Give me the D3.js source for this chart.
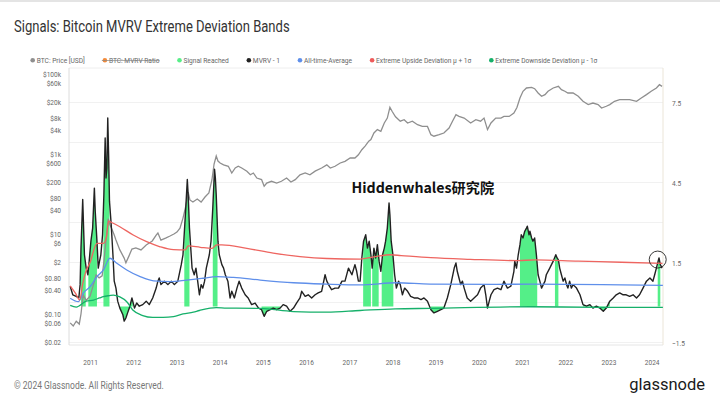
<!DOCTYPE html>
<html>
<head>
<meta charset="utf-8">
<script src="https://cdn.jsdelivr.net/npm/d3@7"></script>
<style>
  html, body { margin: 0; padding: 0; background: #fff; }
  svg { display: block; font-family: Roboto, "Noto Sans", sans-serif; }
</style>
</head>
<body>
<div id="chart"></div>
<script>
// <-- ************ FRAME ************ -->
const FRAME_WIDTH = 720;
const FRAME_HEIGHT = 395;
const PLOT = {left: 69, right: 663, top: 68, bottom: 345};
const SQUEEZE = 0.82; // glassnode text in the shot is a bit narrow

// <-- ************ DATA ************ -->
const YEAR_TICKS = [2011, 2012, 2013, 2014, 2015, 2016, 2017, 2018, 2019, 2020, 2021, 2022, 2023, 2024];
const PRICE_TICKS = [100000, 60000, 20000, 8000, 4000, 1000, 600, 200, 80, 40, 10, 6, 2, 0.8, 0.4, 0.1, 0.06, 0.02];
const PRICE_TICK_LABELS = ["$100k", "$60k", "$20k", "$8k", "$4k", "$1k", "$600", "$200", "$80", "$40",
                           "$10", "$6", "$2", "$0.80", "$0.40", "$0.10", "$0.06", "$0.02"];
const MVRV_TICKS = [7.5, 4.5, 1.5, -1.5];
const GRID_TICKS = [7.5, 6, 4.5, 3, 1.5, 0, -1.5];

// [decimal year, value]
const BTC_PRICE = [
  [2010.54, 0.060], [2010.61, 0.050], [2010.68, 0.066], [2010.75, 0.056], [2010.79, 0.10], [2010.84, 0.30],
  [2010.91, 0.22], [2011.00, 0.28], [2011.09, 0.60], [2011.14, 0.95], [2011.21, 0.80], [2011.28, 0.90],
  [2011.32, 2.0], [2011.37, 7.0], [2011.42, 24], [2011.46, 17], [2011.51, 13], [2011.56, 9.4],
  [2011.60, 7.1], [2011.69, 4.0], [2011.79, 2.5], [2011.83, 1.9], [2011.90, 2.8], [2011.97, 4.2],
  [2012.06, 4.5], [2012.18, 4.0], [2012.30, 5.3], [2012.44, 6.7], [2012.53, 9.4], [2012.57, 10.6],
  [2012.64, 7.0], [2012.76, 8.0], [2012.85, 8.9], [2012.94, 10.0], [2013.01, 11.2], [2013.08, 14],
  [2013.15, 25], [2013.22, 53], [2013.27, 112], [2013.31, 71], [2013.38, 63], [2013.48, 75],
  [2013.57, 63], [2013.66, 84], [2013.75, 106], [2013.82, 224], [2013.87, 562], [2013.92, 891],
  [2013.96, 668], [2014.01, 596], [2014.09, 535], [2014.20, 493], [2014.28, 335], [2014.36, 447],
  [2014.43, 493], [2014.51, 447], [2014.63, 372], [2014.71, 302], [2014.78, 335], [2014.86, 251],
  [2014.97, 229], [2015.03, 156], [2015.09, 188], [2015.20, 208], [2015.32, 188], [2015.43, 208],
  [2015.55, 251], [2015.65, 200], [2015.75, 229], [2015.86, 302], [2015.98, 335], [2016.09, 302],
  [2016.21, 372], [2016.36, 447], [2016.48, 535], [2016.56, 447], [2016.67, 493], [2016.79, 596],
  [2016.90, 657], [2017.02, 794], [2017.13, 794], [2017.21, 955], [2017.29, 1280], [2017.37, 1600],
  [2017.45, 2100], [2017.50, 2300], [2017.57, 3350], [2017.65, 4070], [2017.73, 3700], [2017.81, 5960],
  [2017.88, 7900], [2017.94, 14700], [2017.99, 11700], [2018.07, 8500], [2018.18, 6600], [2018.27, 7200],
  [2018.35, 5960], [2018.46, 6600], [2018.58, 5400], [2018.69, 4900], [2018.81, 4900], [2018.89, 3040],
  [2018.96, 2780], [2019.08, 3040], [2019.19, 3350], [2019.31, 4470], [2019.39, 6600], [2019.47, 9600],
  [2019.54, 8700], [2019.66, 7900], [2019.81, 5960], [2019.93, 7200], [2020.04, 6600], [2020.12, 7900],
  [2020.20, 4070], [2020.28, 5960], [2020.39, 7900], [2020.51, 7900], [2020.58, 8700], [2020.70, 8700],
  [2020.81, 10600], [2020.88, 14500], [2020.95, 25100], [2021.02, 37000], [2021.10, 44700], [2021.22, 46400],
  [2021.29, 43000], [2021.37, 33500], [2021.45, 27700], [2021.53, 30500], [2021.60, 37000], [2021.72, 44700],
  [2021.84, 49200], [2021.91, 40500], [2021.99, 37000], [2022.06, 33500], [2022.18, 33500], [2022.30, 27700],
  [2022.41, 20800], [2022.53, 17200], [2022.64, 18800], [2022.76, 17200], [2022.84, 14100], [2022.95, 15600],
  [2023.03, 17200], [2023.14, 20800], [2023.26, 22900], [2023.38, 22900], [2023.49, 22900], [2023.65, 20800],
  [2023.76, 25100], [2023.88, 30500], [2023.99, 37000], [2024.11, 44700], [2024.18, 54000], [2024.24, 49000]
];

const MVRV_MINUS_ONE = [
  [2010.54, 0.61], [2010.60, 0.29], [2010.68, 0.23], [2010.74, 0.17], [2010.77, 0.67], [2010.79, 2.04],
  [2010.83, 3.86], [2010.87, 1.79], [2010.91, 1.29], [2010.95, 1.04], [2010.98, 1.55], [2011.02, 2.30],
  [2011.06, 2.79], [2011.10, 4.29], [2011.12, 3.42], [2011.16, 2.30], [2011.19, 1.29], [2011.22, 1.55],
  [2011.25, 1.79], [2011.29, 2.54], [2011.32, 4.04], [2011.35, 6.17], [2011.37, 4.67], [2011.39, 5.04],
  [2011.41, 6.92], [2011.43, 5.54], [2011.45, 3.80], [2011.49, 2.92], [2011.53, 1.79], [2011.56, 0.80],
  [2011.60, 0.54], [2011.64, 0.05], [2011.69, -0.21], [2011.76, -0.46], [2011.79, -0.70], [2011.83, -0.58],
  [2011.87, -0.39], [2011.91, -0.21], [2011.97, 0.17], [2012.03, -0.21], [2012.08, -0.02], [2012.14, -0.14],
  [2012.22, -0.08], [2012.30, 0.05], [2012.37, -0.08], [2012.45, 0.17], [2012.53, 0.54], [2012.57, 0.80],
  [2012.60, 0.92], [2012.64, 0.67], [2012.72, 0.80], [2012.80, 0.67], [2012.88, 0.80], [2012.95, 0.67],
  [2013.03, 0.80], [2013.11, 1.42], [2013.15, 1.79], [2013.21, 3.42], [2013.25, 4.61], [2013.27, 4.04],
  [2013.30, 2.79], [2013.34, 1.79], [2013.36, 1.29], [2013.41, 1.04], [2013.45, 1.29], [2013.49, 0.80],
  [2013.53, 0.29], [2013.57, 0.67], [2013.61, 0.54], [2013.65, 0.80], [2013.69, 1.29], [2013.76, 1.79],
  [2013.80, 2.30], [2013.84, 3.54], [2013.88, 5.00], [2013.90, 4.67], [2013.92, 4.03], [2013.96, 2.30],
  [2013.99, 1.79], [2014.05, 1.42], [2014.09, 1.29], [2014.13, 1.04], [2014.19, 0.80], [2014.24, 0.17],
  [2014.28, 0.42], [2014.34, 0.17], [2014.40, 0.54], [2014.45, 0.80], [2014.51, 0.54], [2014.59, 0.29],
  [2014.66, 0.17], [2014.74, -0.08], [2014.82, -0.02], [2014.90, -0.21], [2014.97, -0.27], [2015.03, -0.52],
  [2015.09, -0.33], [2015.17, -0.27], [2015.24, -0.21], [2015.32, -0.27], [2015.40, -0.21], [2015.47, -0.08],
  [2015.55, -0.14], [2015.63, -0.33], [2015.71, -0.21], [2015.78, -0.02], [2015.86, 0.17], [2015.90, 0.42],
  [2015.98, 0.23], [2016.05, 0.29], [2016.13, 0.17], [2016.21, 0.29], [2016.28, 0.36], [2016.36, 0.42],
  [2016.44, 1.04], [2016.48, 0.80], [2016.52, 0.67], [2016.59, 0.48], [2016.67, 0.54], [2016.75, 0.54],
  [2016.83, 0.80], [2016.90, 0.80], [2016.98, 1.29], [2017.06, 1.04], [2017.13, 1.42], [2017.17, 1.17],
  [2017.21, 0.80], [2017.25, 0.80], [2017.29, 1.67], [2017.33, 2.30], [2017.38, 2.54], [2017.42, 2.04],
  [2017.46, 2.30], [2017.50, 1.79], [2017.53, 1.29], [2017.57, 2.04], [2017.61, 1.67], [2017.65, 2.17],
  [2017.69, 1.55], [2017.73, 1.17], [2017.77, 1.79], [2017.81, 2.04], [2017.84, 2.30], [2017.88, 2.79],
  [2017.92, 3.73], [2017.94, 3.29], [2017.97, 2.30], [2018.01, 1.79], [2018.05, 1.04], [2018.09, 0.54],
  [2018.14, 0.80], [2018.18, 0.67], [2018.23, 0.29], [2018.28, 0.54], [2018.35, 0.42], [2018.42, 0.23],
  [2018.50, 0.17], [2018.58, 0.17], [2018.66, 0.11], [2018.73, 0.17], [2018.81, 0.05], [2018.89, -0.27],
  [2018.96, -0.39], [2019.04, -0.33], [2019.12, -0.27], [2019.19, -0.21], [2019.27, 0.17], [2019.35, 0.67],
  [2019.43, 1.29], [2019.47, 1.48], [2019.50, 1.17], [2019.54, 0.92], [2019.58, 0.67], [2019.62, 0.80],
  [2019.66, 0.54], [2019.73, 0.17], [2019.81, 0.05], [2019.89, 0.17], [2019.97, 0.29], [2020.04, 0.54],
  [2020.12, 0.67], [2020.16, 0.29], [2020.20, -0.21], [2020.24, 0.05], [2020.28, 0.29], [2020.35, 0.48],
  [2020.43, 0.54], [2020.51, 0.48], [2020.58, 0.80], [2020.66, 0.54], [2020.74, 0.61], [2020.81, 1.17],
  [2020.83, 1.55], [2020.87, 1.29], [2020.91, 1.79], [2020.95, 2.17], [2020.98, 2.54], [2021.02, 2.42],
  [2021.06, 2.67], [2021.10, 2.79], [2021.12, 2.86], [2021.16, 2.54], [2021.18, 2.67], [2021.22, 2.42],
  [2021.25, 2.30], [2021.29, 2.42], [2021.33, 1.79], [2021.37, 1.04], [2021.41, 0.80], [2021.45, 0.54],
  [2021.49, 0.67], [2021.53, 0.80], [2021.56, 1.04], [2021.64, 1.29], [2021.72, 1.55], [2021.78, 1.79],
  [2021.81, 1.67], [2021.84, 1.60], [2021.87, 1.29], [2021.91, 1.04], [2021.95, 0.80], [2021.99, 0.92],
  [2022.03, 0.67], [2022.06, 0.54], [2022.10, 0.80], [2022.14, 0.54], [2022.18, 0.67], [2022.26, 0.54],
  [2022.34, 0.29], [2022.41, -0.08], [2022.49, -0.14], [2022.57, -0.08], [2022.64, -0.21], [2022.72, -0.14],
  [2022.80, -0.21], [2022.88, -0.33], [2022.95, -0.21], [2023.03, 0.05], [2023.11, 0.17], [2023.18, 0.29],
  [2023.26, 0.36], [2023.34, 0.29], [2023.41, 0.29], [2023.49, 0.23], [2023.57, 0.29], [2023.65, 0.17],
  [2023.72, 0.29], [2023.80, 0.54], [2023.88, 0.80], [2023.96, 0.92], [2024.03, 0.80], [2024.07, 1.04],
  [2024.11, 1.29], [2024.15, 1.55], [2024.17, 1.67], [2024.20, 1.42], [2024.24, 1.29]
];

const ALL_TIME_AVERAGE = [
  [2010.54, 0.16], [2010.73, 0.03], [2010.84, 0.35], [2011.00, 0.59], [2011.16, 0.97], [2011.31, 1.22],
  [2011.46, 1.66], [2011.62, 1.47], [2011.85, 1.22], [2012.16, 0.97], [2012.47, 0.81], [2012.85, 0.78],
  [2013.24, 0.84], [2013.62, 0.91], [2013.93, 0.97], [2014.32, 0.94], [2014.94, 0.84], [2015.71, 0.74],
  [2016.48, 0.69], [2017.25, 0.66], [2018.10, 0.74], [2018.87, 0.69], [2020.41, 0.68], [2021.19, 0.69],
  [2024.26, 0.64]
];

const UPSIDE_BAND = [
  [2010.54, 0.62], [2010.66, 0.35], [2010.76, 0.10], [2010.83, 0.70], [2010.90, 1.15], [2011.00, 1.50],
  [2011.16, 2.22], [2011.31, 2.22], [2011.38, 2.45], [2011.43, 3.05], [2011.50, 3.00], [2011.69, 2.84],
  [2012.00, 2.53], [2012.31, 2.28], [2012.62, 2.09], [2012.93, 1.98], [2013.20, 1.97], [2013.27, 2.12],
  [2013.55, 2.07], [2013.82, 2.03], [2013.93, 2.16], [2014.05, 2.16], [2014.63, 2.03], [2015.24, 1.85],
  [2015.86, 1.72], [2016.48, 1.65], [2017.25, 1.63], [2017.60, 1.72], [2017.95, 1.79], [2018.20, 1.76],
  [2018.89, 1.68], [2019.80, 1.62], [2020.90, 1.57], [2021.30, 1.60], [2022.30, 1.55], [2023.30, 1.51],
  [2024.25, 1.47]
];

const DOWNSIDE_BAND = [
  [2010.54, -0.11], [2010.68, -0.17], [2010.91, 0.05], [2011.08, 0.09], [2011.22, 0.17], [2011.31, 0.22],
  [2011.45, 0.26], [2011.54, 0.28], [2011.69, 0.21], [2011.85, 0.03], [2011.99, -0.28], [2012.22, -0.49],
  [2012.45, -0.56], [2012.69, -0.56], [2012.93, -0.53], [2013.15, -0.43], [2013.39, -0.36], [2013.53, -0.30],
  [2013.92, -0.19], [2014.16, -0.21], [2014.94, -0.22], [2015.71, -0.34], [2016.48, -0.36], [2017.25, -0.30],
  [2018.06, -0.24], [2018.87, -0.22], [2021.19, -0.16], [2022.81, -0.18], [2024.26, -0.18]
];

// periods where MVRV - 1 left the bands [from, to]
const SIGNAL_PERIODS = [
  [2010.79, 2010.90], [2010.96, 2011.16], [2011.31, 2011.45], [2011.67, 2011.99],
  [2013.18, 2013.30], [2013.84, 2013.95], [2014.97, 2015.44],
  [2017.32, 2017.50], [2017.53, 2017.68], [2017.75, 2018.02], [2018.89, 2019.19],
  [2020.95, 2021.35], [2021.76, 2021.84], [2022.41, 2023.03], [2024.14, 2024.20]
];
const SIGNAL_BASE = -0.15;

const CIRCLE_MARK = [2024.14, 1.61];

const LEGEND = [
  {label: "BTC: Price [USD]", color: "#8f8f8f"},
  {label: "BTC: MVRV Ratio", color: "#f28a3a", hidden: true},
  {label: "Signal Reached", color: "#58ee88"},
  {label: "MVRV - 1", color: "#222222"},
  {label: "All-time-Average", color: "#5f8fea"},
  {label: "Extreme Upside Deviation \u03bc + 1\u03c3", color: "#ee5b5b"},
  {label: "Extreme Downside Deviation \u03bc - 1\u03c3", color: "#16b06a"}
];

// decimal year -> Date
function yearToDate(t) {
  const yr = Math.floor(t);
  const a = Date.UTC(yr, 0, 1), b = Date.UTC(yr + 1, 0, 1);
  return new Date(a + (t - yr) * (b - a));
}
const toPoints = (arr) => arr.map(([t, v]) => ({date: yearToDate(t), value: v}));

// <-- ************ SCALES ************ -->
const X_SCALE = d3.scaleUtc()
  .domain([new Date("2010-07-07"), new Date("2024-04-06")])
  .range([PLOT.left, PLOT.right]);

const Y_PRICE = d3.scaleLog()
  .domain([0.01679, 141254])
  .range([PLOT.bottom, PLOT.top]);

const Y_MVRV = d3.scaleLinear()
  .domain([-1.594, 8.794])
  .range([PLOT.bottom, PLOT.top]);

const SVG = d3.select("#chart").append("svg")
  .attr("width", FRAME_WIDTH)
  .attr("height", FRAME_HEIGHT);

// top strip
SVG.append("rect").attr("x", 0).attr("y", 0).attr("width", FRAME_WIDTH).attr("height", 2).attr("fill", "#e4e4e4");

// squeezed text helper
function sText(parent, x, y, str) {
  return parent.append("text")
    .attr("transform", "translate(" + x + "," + y + ") scale(" + SQUEEZE + ",1)")
    .text(str);
}

// title
sText(SVG, 14, 31.5, "Signals: Bitcoin MVRV Extreme Deviation Bands")
  .attr("font-size", 15.9).attr("fill", "#333");

// legend
let lx = 32.7;
LEGEND.forEach((d) => {
  SVG.append("circle").attr("cx", lx).attr("cy", 60.3).attr("r", 2.3).attr("fill", d.color);
  const t = sText(SVG, lx + 4, 62.9, d.label).attr("font-size", 8.1).attr("fill", "#666");
  const w = t.node().getComputedTextLength() * SQUEEZE;
  if (d.hidden) {
    SVG.append("line").attr("x1", lx - 3).attr("x2", lx + 4 + w).attr("y1", 60.5).attr("y2", 60.5)
      .attr("stroke", "#888").attr("stroke-width", 0.7);
  }
  lx += 4 + w + 20;
});

// grid
SVG.append("g").selectAll("line")
  .data(GRID_TICKS)
  .enter().append("line")
  .attr("x1", PLOT.left).attr("x2", PLOT.right)
  .attr("y1", (d) => Y_MVRV(d)).attr("y2", (d) => Y_MVRV(d))
  .attr("stroke", "#f1f1f1");

// frame
SVG.append("line").attr("x1", PLOT.left).attr("x2", PLOT.right).attr("y1", PLOT.top).attr("y2", PLOT.top).attr("stroke", "#eeeeee");
SVG.append("line").attr("x1", PLOT.left).attr("x2", PLOT.right).attr("y1", PLOT.bottom).attr("y2", PLOT.bottom).attr("stroke", "#e6e6e6");
SVG.append("line").attr("x1", PLOT.left).attr("x2", PLOT.left).attr("y1", PLOT.top).attr("y2", PLOT.bottom).attr("stroke", "#dcdcdc");
SVG.append("line").attr("x1", PLOT.right).attr("x2", PLOT.right).attr("y1", PLOT.top).attr("y2", PLOT.bottom).attr("stroke", "#ebe5d8");

// <-- ************ AXES ************ -->
function squeezeTicks(g) {
  g.select(".domain").remove();
  g.selectAll(".tick line").remove();
  g.attr("font-family", null).attr("font-size", 8);
  g.selectAll(".tick text").attr("fill", "#666").attr("dy", null);
}

SVG.append("g")
  .attr("transform", "translate(" + PLOT.left + ",0)")
  .call(d3.axisLeft(Y_PRICE).tickValues(PRICE_TICKS).tickFormat((d, i) => PRICE_TICK_LABELS[i]))
  .call(squeezeTicks)
  .selectAll(".tick text")
    .attr("x", -8 / SQUEEZE).attr("y", 2.8)
    .attr("transform", "scale(" + SQUEEZE + ",1)");

SVG.append("g")
  .attr("transform", "translate(" + PLOT.right + ",0)")
  .call(d3.axisRight(Y_MVRV).tickValues(MVRV_TICKS).tickFormat(d3.format(".1f")))
  .call(squeezeTicks)
  .selectAll(".tick text")
    .attr("x", 9 / SQUEEZE).attr("y", 2.8)
    .attr("transform", "scale(" + SQUEEZE + ",1)");

SVG.append("g")
  .attr("transform", "translate(0," + PLOT.bottom + ")")
  .call(d3.axisBottom(X_SCALE).tickValues(YEAR_TICKS.map(yearToDate)).tickFormat(d3.utcFormat("%Y")))
  .call(squeezeTicks)
  .selectAll(".tick text")
    .attr("y", 20.5)
    .attr("transform", "scale(" + SQUEEZE + ",1)");

// <-- ************ SERIES ************ -->
const mvrvPts = toPoints(MVRV_MINUS_ONE);

const clip = SVG.append("clipPath").attr("id", "signal-clip");
clip.selectAll("rect")
  .data(SIGNAL_PERIODS)
  .enter().append("rect")
  .attr("x", (d) => X_SCALE(yearToDate(d[0])))
  .attr("width", (d) => X_SCALE(yearToDate(d[1])) - X_SCALE(yearToDate(d[0])))
  .attr("y", PLOT.top).attr("height", PLOT.bottom - PLOT.top);

SVG.append("path")
  .datum(mvrvPts)
  .attr("clip-path", "url(#signal-clip)")
  .attr("fill", "#45ee7e")
  .attr("fill-opacity", 0.92)
  .attr("d", d3.area()
    .x((d) => X_SCALE(d.date))
    .y0(Y_MVRV(SIGNAL_BASE))
    .y1((d) => Y_MVRV(d.value)));

SVG.append("path")
  .datum(toPoints(BTC_PRICE))
  .attr("fill", "none").attr("stroke", "#8f8f8f").attr("stroke-width", 1.3)
  .attr("d", d3.line().x((d) => X_SCALE(d.date)).y((d) => Y_PRICE(d.value)));

SVG.append("path")
  .datum(mvrvPts)
  .attr("fill", "none").attr("stroke", "#222").attr("stroke-width", 1.4).attr("stroke-linejoin", "round")
  .attr("d", d3.line().x((d) => X_SCALE(d.date)).y((d) => Y_MVRV(d.value)));

const bandLine = d3.line().curve(d3.curveMonotoneX).x((d) => X_SCALE(d.date)).y((d) => Y_MVRV(d.value));
[[ALL_TIME_AVERAGE, "#5f8fea"], [UPSIDE_BAND, "#ee6560"], [DOWNSIDE_BAND, "#16b06a"]].forEach(([arr, c]) => {
  SVG.append("path")
    .datum(toPoints(arr))
    .attr("fill", "none").attr("stroke", c).attr("stroke-width", 1.3)
    .attr("d", bandLine);
});

// annotation circle
SVG.append("circle")
  .attr("cx", X_SCALE(yearToDate(CIRCLE_MARK[0])))
  .attr("cy", Y_MVRV(CIRCLE_MARK[1]))
  .attr("r", 8.5)
  .attr("fill", "none").attr("stroke", "#222").attr("stroke-width", 0.9);

// watermark
SVG.append("text")
  .attr("x", 351.5).attr("y", 193.3)
  .attr("font-family", "'Noto Sans CJK SC', 'Noto Sans', sans-serif")
  .attr("font-weight", 700).attr("font-size", 14.2).attr("fill", "#111")
  .text("Hiddenwhales研究院");

// footer
sText(SVG, 14, 388.5, "\u00a9 2024 Glassnode. All Rights Reserved.").attr("font-size", 10.4).attr("fill", "#777");
SVG.append("text")
  .attr("x", 705).attr("y", 389.5).attr("text-anchor", "end")
  .attr("font-size", 16.5).attr("fill", "#1a1a1a")
  .text("glassnode");
</script>
</body>
</html>
